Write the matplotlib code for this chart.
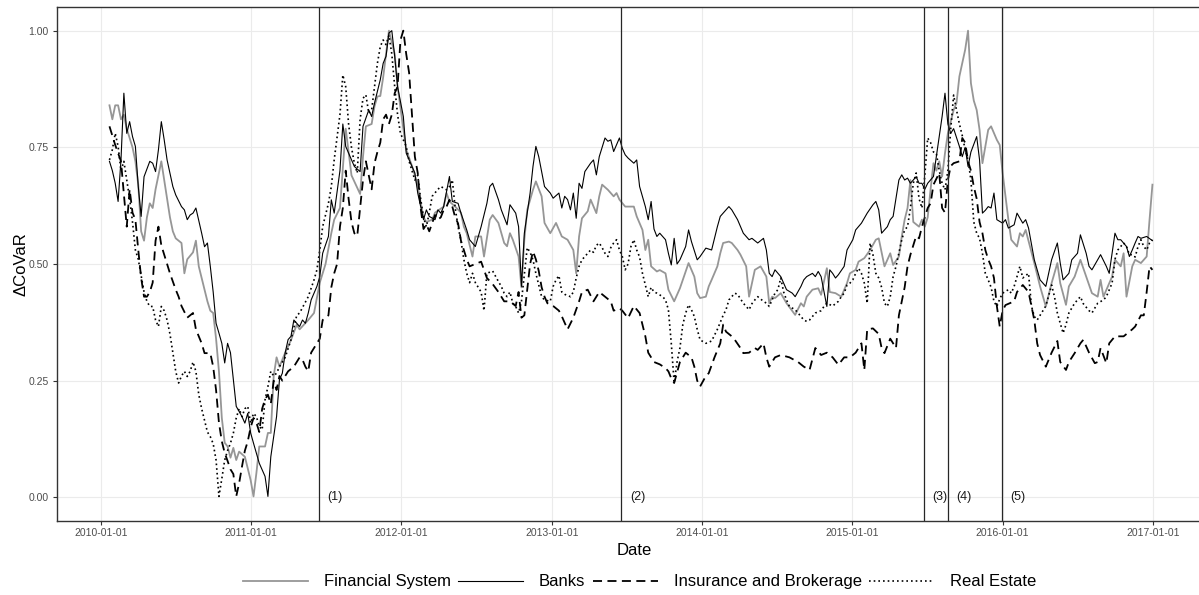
import matplotlib
matplotlib.use("Agg")
import matplotlib.pyplot as plt
import matplotlib.dates as mdates
import numpy as np
import pandas as pd

plt.rcParams["font.family"] = ["Liberation Sans", "DejaVu Sans"]

# weekly observations (Fridays) starting here; each pair is (week number, delta CoVaR)
start = pd.Timestamp("2010-01-22")
end = pd.Timestamp("2016-12-30")

financial = [
    (0, .84), (1, .81), (2, .84), (3, .84), (4, .81), (5, .82), (6, .79), (8, .75), (9, .72), (10, .67),
    (11, .57), (12, .55), (13, .60), (14, .63), (15, .62), (16, .66), (18, .72), (19, .68), (21, .60),
    (22, .57), (23, .555), (25, .545), (26, .48), (27, .51), (29, .525), (30, .55), (31, .495), (32, .47),
    (33, .445), (34, .42), (35, .40), (36, .395), (37, .34), (38, .27), (39, .17), (40, .117), (41, .109),
    (42, .085), (43, .106), (44, .08), (45, .098), (47, .087), (49, .037), (50, .002), (51, .052),
    (52, .109), (54, .109), (55, .138), (56, .138), (57, .26), (58, .30), (59, .28), (61, .31), (63, .337),
    (65, .37), (66, .36), (69, .38), (71, .395), (73, .46), (75, .50), (77, .566), (78, .595), (80, .62),
    (82, .79), (83, .74), (84, .69), (87, .65), (88, .73), (89, .795), (91, .80), (92, .838), (93, .859),
    (94, .86), (95, .90), (97, 1.0), (99, .95), (100, .88), (102, .79), (103, .745), (105, .71), (106, .69),
    (107, .666), (109, .60), (110, .59), (112, .595), (113, .61), (116, .623), (117, .652), (118, .634),
    (120, .623), (122, .61), (123, .58), (124, .566), (126, .516), (127, .559), (129, .559), (130, .516),
    (132, .595), (133, .605), (135, .588), (137, .545), (138, .538), (139, .566), (140, .552), (142, .516),
    (143, .45), (144, .552), (145, .616), (147, .659), (148, .677), (150, .645), (151, .588), (153, .566),
    (155, .588), (157, .559), (159, .552), (161, .530), (162, .480), (163, .559), (164, .598), (166, .613),
    (167, .638), (169, .609), (170, .645), (171, .67), (173, .659), (175, .645), (176, .652), (177, .638),
    (179, .623), (182, .623), (183, .602), (185, .573), (186, .530), (187, .552), (188, .495), (190, .484),
    (191, .487), (193, .48), (194, .445), (196, .42), (198, .448), (201, .502), (203, .473), (204, .4375),
    (205, .427), (207, .43), (208, .452), (209, .466), (211, .495), (212, .523), (213, .545), (215, .548),
    (216, .545), (218, .53), (219, .52), (221, .495), (222, .43), (224, .4875), (226, .495), (228, .473),
    (229, .416), (230, .43), (231, .427), (233, .4375), (235, .416), (238, .391), (240, .416), (241, .409),
    (242, .43), (244, .445), (246, .448), (247, .434), (249, .491), (250, .44), (252, .4375), (254, .43),
    (256, .459), (257, .48), (259, .4875), (260, .505), (262, .5125), (264, .53), (266, .552), (267, .555),
    (269, .495), (271, .523), (272, .498), (274, .516), (275, .559), (276, .595), (277, .62), (278, .68),
    (279, .59), (281, .58), (282, .595), (283, .58), (284, .60), (285, .66), (286, .716), (287, .70),
    (288, .72), (289, .6875), (290, .7375), (291, .78), (293, .83), (294, .845), (295, .902), (296, .93),
    (297, .959), (298, 1.0), (299, .8875), (300, .85), (301, .83), (302, .7875), (303, .716), (304, .752),
    (305, .7875), (306, .795), (308, .766), (309, .755), (310, .695), (312, .595), (313, .552), (315, .5375),
    (316, .566), (317, .559), (318, .573), (321, .502), (323, .452), (325, .409), (327, .459), (329, .502),
    (330, .459), (332, .4125), (333, .452), (335, .473), (337, .509), (339, .473), (341, .4375), (343, .43),
    (344, .466), (345, .43), (347, .459), (348, .473), (349, .509), (351, .495), (352, .523), (353, .43),
    (355, .495), (356, .509), (358, .502), (360, .516), (361, .595), (362, .67),
]

banks = [
    (0, .72), (1, .70), (2, .673), (3, .634), (4, .723), (5, .866), (6, .78), (7, .805), (8, .773), (9, .752),
    (10, .666), (11, .602), (12, .687), (14, .72), (15, .716), (16, .698), (17, .745), (18, .805), (19, .766),
    (20, .723), (21, .695), (22, .666), (23, .648), (25, .623), (26, .616), (27, .595), (28, .605), (29, .609),
    (30, .62), (32, .566), (33, .537), (34, .545), (35, .495), (36, .44), (37, .373), (38, .352), (39, .33),
    (40, .288), (41, .33), (42, .31), (43, .252), (44, .195), (46, .173), (47, .159), (48, .18), (49, .138),
    (50, .116), (52, .073), (54, .045), (55, .002), (56, .087), (57, .13), (58, .173), (59, .252), (60, .266),
    (61, .31), (62, .338), (63, .345), (64, .38), (66, .366), (67, .38), (68, .373), (69, .395), (70, .423),
    (72, .452), (73, .473), (74, .523), (76, .559), (77, .6375), (78, .609), (80, .70), (81, .80), (82, .752),
    (84, .723), (85, .709), (87, .698), (88, .795), (90, .83), (91, .816), (92, .845), (94, .895), (95, .93),
    (96, .945), (97, .995), (98, 1.0), (99, .945), (100, .88), (102, .816), (103, .7375), (105, .709),
    (106, .695), (107, .652), (109, .595), (110, .616), (111, .602), (113, .595), (114, .616), (115, .609),
    (116, .623), (118, .6875), (119, .634), (121, .63), (122, .609), (124, .573), (125, .552), (127, .5375),
    (129, .58), (131, .63), (132, .666), (133, .673), (135, .638), (136, .616), (138, .584), (139, .627),
    (141, .609), (142, .58), (143, .452), (144, .566), (146, .652), (147, .709), (148, .752), (149, .73),
    (151, .666), (153, .652), (154, .641), (156, .652), (157, .62), (158, .645), (159, .638), (160, .616),
    (161, .652), (162, .598), (163, .673), (164, .662), (165, .698), (167, .716), (168, .723), (169, .691),
    (170, .73), (172, .77), (173, .763), (174, .766), (175, .741), (177, .77), (178, .748), (179, .734),
    (180, .727), (182, .716), (183, .723), (184, .666), (186, .623), (187, .595), (188, .634), (189, .575),
    (190, .559), (191, .566), (193, .552), (194, .523), (195, .498), (196, .555), (197, .50), (198, .509),
    (200, .5375), (201, .573), (202, .548), (204, .509), (205, .516), (207, .534), (209, .53), (211, .58),
    (212, .602), (213, .609), (215, .623), (216, .616), (218, .595), (220, .566), (222, .552), (223, .555),
    (225, .545), (227, .555), (228, .53), (229, .48), (230, .473), (231, .4875), (233, .473), (234, .459),
    (235, .445), (237, .4375), (238, .43), (240, .452), (241, .466), (242, .473), (244, .48), (245, .473),
    (246, .484), (247, .473), (249, .409), (250, .4875), (251, .48), (252, .47), (253, .477), (255, .495),
    (256, .53), (258, .552), (259, .573), (261, .5875), (263, .609), (265, .627), (266, .634), (267, .616),
    (268, .566), (270, .58), (271, .595), (272, .602), (274, .68), (275, .691), (276, .68), (277, .684),
    (278, .673), (280, .687), (281, .673), (282, .673), (283, .66), (284, .673), (286, .6875), (288, .773),
    (289, .816), (290, .866), (291, .80), (292, .78), (293, .79), (295, .752), (296, .73), (297, .75),
    (298, .709), (299, .74), (301, .773), (302, .723), (303, .609), (304, .615), (305, .623), (306, .62),
    (307, .652), (308, .595), (310, .5875), (311, .595), (312, .577), (314, .584), (315, .609), (317, .5875),
    (318, .595), (319, .577), (321, .509), (323, .466), (325, .452), (327, .509), (329, .545), (330, .502),
    (331, .466), (333, .48), (334, .509), (336, .523), (337, .5625), (339, .523), (340, .495), (341, .4875),
    (343, .509), (344, .52), (346, .495), (347, .48), (348, .523), (349, .566), (350, .552), (351, .552),
    (353, .5375), (354, .516), (355, .53), (356, .545), (357, .559), (358, .555), (360, .559), (362, .55),
]

insurance = [
    (0, .795), (1, .775), (2, .755), (4, .72), (5, .65), (6, .58), (7, .66), (8, .61), (9, .595), (10, .53),
    (11, .47), (12, .43), (13, .43), (14, .44), (15, .46), (16, .55), (17, .58), (18, .54), (19, .52),
    (20, .50), (21, .48), (23, .445), (24, .43), (25, .41), (27, .385), (29, .395), (30, .36), (31, .345),
    (32, .33), (33, .309), (35, .309), (36, .28), (37, .23), (38, .16), (39, .12), (40, .095), (41, .078),
    (42, .06), (43, .05), (44, .002), (45, .03), (46, .066), (47, .10), (48, .12), (49, .15), (50, .17),
    (51, .16), (52, .14), (53, .19), (54, .21), (55, .22), (56, .20), (57, .25), (58, .23), (59, .26),
    (60, .25), (62, .27), (64, .28), (66, .30), (67, .295), (68, .28), (69, .27), (70, .31), (72, .33),
    (73, .34), (74, .38), (76, .39), (77, .45), (78, .48), (79, .50), (80, .58), (81, .62), (82, .70),
    (83, .64), (84, .59), (85, .566), (86, .56), (87, .62), (88, .68), (89, .72), (90, .69), (91, .66),
    (92, .716), (93, .74), (94, .76), (95, .81), (96, .82), (97, .80), (98, .82), (99, .866), (100, .88),
    (101, .98), (102, 1.0), (103, .95), (104, .91), (105, .82), (106, .73), (107, .695), (108, .62),
    (109, .575), (110, .585), (111, .57), (113, .605), (114, .595), (115, .60), (116, .616), (117, .623),
    (118, .6375), (119, .623), (120, .60), (121, .587), (122, .55), (124, .51), (125, .495), (127, .50),
    (129, .505), (131, .47), (133, .457), (135, .44), (137, .42), (139, .42), (141, .41), (142, .44),
    (143, .385), (144, .39), (146, .50), (147, .527), (148, .51), (149, .485), (150, .45), (151, .43),
    (152, .416), (154, .41), (156, .40), (157, .388), (159, .36), (161, .385), (163, .42), (164, .44),
    (166, .445), (168, .42), (170, .44), (172, .43), (174, .42), (175, .40), (177, .405), (178, .40),
    (180, .384), (182, .41), (184, .395), (185, .37), (186, .345), (187, .31), (188, .30), (189, .29),
    (191, .285), (193, .277), (194, .27), (195, .255), (196, .245), (198, .29), (200, .31), (202, .30),
    (203, .28), (204, .25), (205, .2375), (207, .26), (208, .266), (210, .30), (212, .33), (213, .37),
    (214, .355), (216, .345), (217, .338), (219, .32), (220, .309), (222, .31), (224, .32), (225, .316),
    (227, .33), (228, .30), (229, .28), (231, .30), (233, .305), (236, .30), (239, .29), (241, .28),
    (243, .273), (245, .32), (247, .305), (249, .31), (251, .30), (253, .284), (255, .30), (257, .30),
    (259, .31), (261, .33), (262, .273), (263, .36), (265, .362), (267, .35), (268, .32), (269, .309),
    (271, .34), (273, .32), (274, .39), (276, .45), (277, .495), (278, .52), (280, .56), (281, .555),
    (282, .58), (283, .60), (284, .62), (285, .63), (286, .67), (288, .695), (289, .62), (290, .61),
    (291, .68), (292, .71), (293, .716), (295, .72), (296, .77), (297, .76), (298, .72), (299, .70),
    (300, .666), (301, .64), (302, .59), (303, .566), (304, .53), (305, .51), (306, .495), (307, .47),
    (308, .41), (309, .366), (310, .40), (311, .412), (314, .42), (315, .44), (317, .455), (319, .44),
    (320, .41), (321, .38), (322, .33), (323, .305), (325, .28), (327, .31), (329, .335), (330, .29),
    (332, .273), (333, .29), (335, .309), (337, .33), (338, .3375), (340, .31), (342, .2875), (343, .29),
    (344, .32), (346, .2875), (347, .33), (349, .345), (352, .345), (355, .36), (356, .366), (358, .39),
    (359, .39), (360, .44), (361, .495), (362, .4875),
]

real_estate = [
    (0, .723), (1, .745), (2, .78), (3, .752), (4, .70), (5, .72), (6, .68), (7, .64), (8, .59), (9, .53),
    (10, .51), (11, .475), (12, .44), (13, .42), (14, .409), (15, .409), (16, .38), (17, .366), (18, .409),
    (19, .40), (20, .38), (21, .35), (22, .31), (23, .27), (24, .245), (25, .26), (26, .27), (27, .259),
    (28, .27), (29, .29), (30, .27), (31, .22), (32, .19), (33, .165), (34, .14), (35, .13), (36, .115),
    (37, .08), (38, .002), (39, .04), (40, .08), (41, .10), (42, .116), (43, .1375), (44, .17), (45, .19),
    (46, .173), (47, .19), (48, .195), (49, .159), (50, .18), (51, .173), (52, .152), (53, .145), (54, .209),
    (55, .2375), (56, .27), (57, .26), (58, .266), (59, .28), (61, .30), (63, .3375), (65, .39), (66, .395),
    (69, .43), (71, .466), (72, .4875), (73, .53), (74, .58), (76, .63), (77, .666), (78, .723), (80, .82),
    (81, .905), (82, .88), (83, .80), (84, .75), (85, .716), (86, .695), (87, .81), (88, .855), (89, .8625),
    (90, .823), (91, .83), (92, .88), (93, .93), (94, .966), (95, .98), (96, .97), (97, .99), (98, .95),
    (99, .88), (100, .82), (101, .78), (102, .766), (103, .752), (104, .72), (105, .70), (106, .68),
    (107, .69), (108, .64), (109, .60), (110, .58), (111, .61), (112, .645), (114, .66), (115, .666),
    (117, .659), (118, .666), (119, .68), (120, .62), (121, .58), (122, .55), (123, .51), (124, .48),
    (125, .46), (126, .48), (127, .46), (129, .44), (130, .40), (131, .48), (133, .485), (135, .4625),
    (136, .452), (137, .4375), (138, .43), (139, .44), (140, .416), (141, .409), (142, .395), (143, .42),
    (145, .535), (146, .525), (147, .509), (148, .48), (149, .455), (150, .43), (151, .423), (153, .42),
    (154, .452), (155, .466), (156, .475), (157, .44), (158, .435), (160, .43), (161, .44), (162, .47),
    (163, .495), (164, .509), (165, .516), (166, .523), (167, .53), (168, .525), (169, .54), (170, .545),
    (171, .535), (172, .523), (173, .516), (174, .535), (175, .545), (176, .552), (177, .53), (178, .516),
    (179, .4875), (180, .50), (181, .5375), (182, .552), (183, .53), (184, .515), (185, .48), (186, .455),
    (187, .43), (188, .45), (189, .44), (190, .4375), (192, .43), (193, .423), (194, .402), (195, .33),
    (196, .245), (197, .29), (198, .32), (199, .37), (200, .395), (201, .4125), (202, .402), (203, .3875),
    (204, .36), (205, .3375), (207, .33), (209, .335), (211, .36), (213, .39), (214, .402), (215, .423),
    (216, .43), (217, .4375), (218, .435), (220, .416), (221, .409), (222, .402), (223, .415), (224, .423),
    (225, .43), (227, .42), (228, .416), (229, .409), (231, .4375), (232, .445), (233, .47), (234, .44),
    (235, .423), (236, .409), (238, .402), (239, .395), (240, .3875), (241, .38), (242, .377), (243, .38),
    (244, .3875), (245, .395), (247, .40), (248, .409), (249, .416), (251, .41), (253, .42), (254, .43),
    (255, .4375), (256, .455), (257, .459), (258, .466), (259, .48), (260, .491), (261, .48), (262, .459),
    (263, .416), (264, .545), (265, .52), (266, .48), (267, .47), (268, .45), (269, .416), (270, .409),
    (271, .43), (272, .473), (273, .495), (274, .523), (275, .552), (276, .573), (277, .58), (278, .62),
    (279, .673), (280, .695), (281, .64), (282, .62), (283, .69), (284, .77), (285, .76), (286, .74),
    (287, .7375), (288, .70), (289, .673), (290, .659), (291, .70), (292, .79), (293, .862), (294, .83),
    (295, .80), (296, .775), (297, .745), (298, .723), (299, .68), (300, .59), (301, .566), (302, .555),
    (303, .523), (304, .48), (305, .466), (306, .45), (307, .42), (308, .409), (309, .425), (310, .4375),
    (312, .445), (313, .4375), (314, .452), (315, .473), (316, .495), (317, .47), (319, .48), (320, .41),
    (321, .3875), (322, .38), (324, .40), (325, .41), (327, .455), (328, .43), (329, .395), (330, .373),
    (331, .352), (332, .37), (333, .395), (335, .416), (337, .43), (338, .415), (340, .40), (341, .395),
    (343, .416), (345, .423), (346, .43), (348, .459), (349, .51), (350, .53), (352, .545), (353, .5375),
    (354, .52), (355, .52), (356, .515), (357, .5375), (358, .552), (359, .5375), (360, .53), (361, .545),
    (362, .552),
]

event_dates = ["2011-06-15", "2013-06-19", "2015-06-25", "2015-08-21", "2015-12-31"]
event_labels = ["(1)", "(2)", "(3)", "(4)", "(5)"]

series_names = ["Financial System", "Banks", "Insurance and Brokerage", "Real Estate"]


def to_dates(pairs):
    weeks, vals = zip(*pairs)
    dates = start + pd.to_timedelta(np.array(weeks) * 7, unit="D")
    return dates, np.array(vals)


fig = plt.figure(figsize=(11.99, 5.95), dpi=100)
# the panel runs a little past the right edge of the picture, as in the original export
ax = fig.add_axes([0.0478, 0.1249, 0.962, 0.8628])

styles = [
    dict(color="#969696", lw=1.3, linestyle="-"),
    dict(color="black", lw=0.8, linestyle="-"),
    dict(color="black", lw=1.3, linestyle=(0, (5, 3))),
    dict(color="black", lw=1.2, linestyle=(0, (1, 1.8))),
]
for name, data, st in zip(series_names, [financial, banks, insurance, real_estate], styles):
    d, v = to_dates(data)
    ax.plot(d, v, label=name, **st)

for dt, lab in zip(event_dates, event_labels):
    x = pd.Timestamp(dt)
    ax.axvline(x, color="#262626", lw=0.9)
    ax.annotate(lab, (x, 0.0), xytext=(6, 0), textcoords="offset points",
                ha="left", va="center", fontsize=9, color="#1a1a1a")

pad = (end - start) * 0.05
ax.set_xlim(start - pad, end + pad + pd.Timedelta(days=15))
ax.set_ylim(-0.05, 1.05)

ax.set_xticks(pd.to_datetime([f"{y}-01-01" for y in range(2010, 2018)]))
ax.xaxis.set_major_formatter(mdates.DateFormatter("%Y-%m-%d"))
ax.set_yticks([0, 0.25, 0.5, 0.75, 1.0])
ax.set_yticklabels(["0.00", "0.25", "0.50", "0.75", "1.00"])

ax.grid(True, color="#EBEBEB", lw=0.8)
ax.set_axisbelow(True)
for sp in ax.spines.values():
    sp.set_color("#333333")
    sp.set_linewidth(1.0)
ax.spines["right"].set_visible(False)
ax.tick_params(length=2.7, width=0.8, color="#333333", labelcolor="#4D4D4D", labelsize=7.5)
ax.tick_params(axis="x", pad=2.5)
ax.tick_params(axis="y", pad=3.5)

ax.set_xlabel("Date", fontsize=12, labelpad=4)
ax.set_ylabel("ΔCoVaR", fontsize=12, labelpad=0)

fig.legend(*ax.get_legend_handles_labels(), loc="center", bbox_to_anchor=(0.5334, 0.022),
           ncol=4, frameon=False, fontsize=12, handlelength=3.9, handletextpad=0.95,
           columnspacing=0.45)

fig.savefig("out.png", dpi=100)
